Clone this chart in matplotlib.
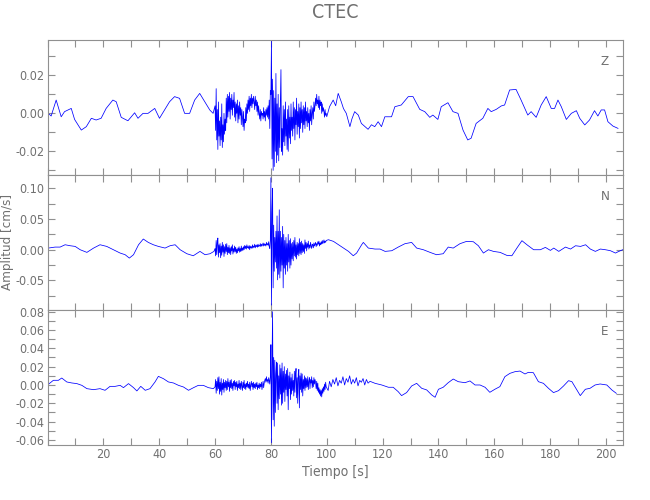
import numpy as np
import matplotlib.pyplot as plt
from matplotlib.ticker import MultipleLocator, FormatStrFormatter

# Amplitudes in units of 1e-3 cm/s
DT = 0.2          # spacing of the dense (strong motion) samples, s
T_DENSE = 60.0    # start of the dense block, s

# ---------------- Z component ----------------
z_t_pre = [0.3, 1.3, 3.1, 4.9, 6.1, 8.5, 9.7, 12.1, 13.9, 15.7, 17.4, 19.2, 21.0, 23.4, 24.6,
           26.4, 28.8, 31.2, 32.4, 34.2, 36.0, 38.4, 40.1, 41.9, 43.7, 45.5, 47.3, 49.1, 50.9,
           52.7, 54.5, 56.3, 58.1, 59.3]
z_v_pre = [0.0, -1.4, 7.0, -1.8, 0.9, 2.6, -3.2, -8.8, -7.0, -2.6, -3.5, -2.6, 2.6, 7.0, 6.1,
           -2.1, -3.9, 0.3, -2.6, 0.0, 0.0, 2.6, -2.6, 1.8, 6.1, 8.8, 7.9, 0.0, 0.0,
           7.0, 10.5, 6.1, 1.8, 0.0]
z_dense = [4, -9, 13, -14, 2,  -19, 6, -12, -4, -17,  -2, -14, 5, -18, -6,  -15, 0, -11, -3, -9,
           8, -5, 10, -2, 9,  1, 11, -3, 8, 2,  10, -1, 7, 3, 11,  -2, 6, -4, 5, 0,
           7, -5, 4, -3, 6,  -1, 3, -6, 2, -2,  -7, 1, -9, -3, -5,  3, -4, 5, 0, 7,
           2, 9, 1, 8, 4,  10, 3, 8, 5, 9,  6, 2, 9, 4, 7,  1, 6, -1, 4, 0,
           -3, 2, -4, 1, -1,  0, -3, 3, -2, 1,  -4, 2, -1, 3, -2,  4, -3, 7, -8, 12,
           10, 38, -24, 18, -30,  12, -28, 8, -20, 21,  -26, 5, -22, 10, -25,  3, -18, 7, 23, -20,
           -8, -22, 4, -15, 2,  -17, 6, -12, -3, -19,  2, -20, 4, -13, -2,  -16, 5, -9, -2, -12,
           6, -8, 3, -14, 2,  -6, 8, -11, 1, -7,  5, -13, 3, -8, 6,  -5, 2, -10, 4, -6,
           3, -8, 6, -4, 1,  -7, 3, -5, 0, -9,  2, -4, 4, -6, 0,  3, -3, 6, 1, 4,
           8, 4, 10, 5, 7,  3, 9, 2, 7, 4,  6, 0, 5, 1, 3,  1, -2, 2, -1, 0]
z_t_post = [100.0, 101.0, 102.3, 103.2, 104.1, 105.2, 106.0, 107.0, 108.3, 109.0,
            110.0, 111.3, 112.4, 114.8, 116.0, 117.2, 118.4, 119.6, 120.8, 123.2,
            124.4, 126.7, 129.2, 130.9, 133.3, 135.1, 136.9, 138.0, 139.8, 141.0,
            143.4, 145.2, 147.0, 148.8, 150.5, 151.7, 153.5, 155.9, 157.7, 158.9,
            160.7, 162.5, 163.7, 165.5, 167.8, 169.6, 172.0, 173.2, 175.0, 176.8,
            178.6, 180.4, 181.6, 182.8, 184.0, 185.8, 187.6, 189.4, 190.6, 192.4,
            194.1, 195.9, 197.1, 198.3, 199.5, 200.7, 202.5, 204.3]
z_v_post = [-1.8, 3.5, 7.0, 4.0, 10.5, 6.1, 2.5, 0.0, -7.0, -3.0,
            0.9, -0.9, -5.3, -8.4, -6.0, -7.0, -4.4, -7.0, -1.8, -1.8,
            3.5, 4.4, 8.8, 8.8, 2.1, 0.9, -2.1, -0.9, -3.2, 3.5,
            5.6, 0.9, 0.0, -8.8, -14.0, -13.1, -5.3, -2.6, 2.6, 0.9,
            2.1, 3.9, 4.4, 12.3, 12.6, 7.0, -0.9, 0.9, -2.1, 4.4,
            8.8, 2.6, 2.6, 7.0, 3.5, -3.2, 0.0, 1.4, -2.6, -6.1,
            -3.5, 1.4, -1.4, 1.8, 1.8, -4.4, -6.7, -7.9]

# ---------------- N component ----------------
n_t_pre = [0.3, 2.7, 4.5, 6.3, 8.1, 9.9, 11.7, 14.1, 16.5, 18.8, 21.2, 23.6, 26.0, 27.8, 29.3,
           30.8, 32.6, 34.3, 36.1, 37.9, 39.7, 42.1, 43.9, 45.7, 47.5, 49.9, 52.2, 54.6, 56.4,
           58.2, 59.6]
n_v_pre = [2.7, 4.3, 4.3, 8.1, 6.5, 5.4, 0.0, -4.3, 2.7, 8.1, 5.4, 0.0, -5.4, -8.1, -13.6,
           -8.1, 8.1, 17.4, 11.9, 8.1, 5.4, 2.7, 6.5, 8.1, 0.0, -6.5, -9.8, -2.7, -8.1,
           -6.5, -2.7]
n_dense = [2, -10, 15, -8, 12,  19, -12, 8, -5, 10,  -13, 6, -9, 12, -4,  8, -11, 5, -6, 9,
           -3, 10, -8, 4, -5,  7, -6, 3, -8, 5,  -2, 8, -7, 2, -4,  6, -3, 4, -6, 1,
           -5, 3, -2, 5, -4,  2, -3, 6, -2, 3,  -1, 5, 0, 7, 2,  6, 1, 8, 3, 5,
           2, 7, 0, 6, 3,  5, 2, 8, 3, 6,  4, 9, 3, 7, 5,  8, 4, 9, 5, 7,
           6, 10, 5, 9, 6,  8, 11, 6, 10, 7,  9, 6, 12, 8, 10,  7, 13, 5, 2, 15,
           117, -90, 60, 100, -62,  40, -35, 20, -20, 30,  -30, 55, -49, 30, -40,  65, -46, 30, -35, 20,
           -25, 38, -62, 25, -30,  15, -40, 20, -25, 10,  -35, 25, -20, 15, -30,  18, -25, 10, -15, 12,
           -18, 15, -10, 20, -12,  8, -15, 12, -8, 10,  -10, 18, -6, 12, -8,  14, -5, 10, -3, 8,
           -6, 16, 2, 12, -2,  10, 4, 14, 1, 8,  3, 12, 6, 2, 9,  8, 3, 11, 6, 9,
           12, 5, 10, 7, 13,  9, 14, 6, 11, 8,  13, 9, 15, 10, 12,  16, 11, 14, 12, 15]
n_t_post = [100.6, 102.4, 104.2, 106.0, 107.8, 109.5, 110.7, 112.5, 113.1, 114.9,
            117.3, 119.1, 120.9, 123.3, 125.6, 128.0, 130.4, 132.2, 134.6, 137.0,
            139.3, 141.7, 143.5, 145.3, 147.7, 150.1, 152.5, 154.3, 156.1, 157.9,
            159.7, 162.1, 164.5, 166.3, 168.1, 169.9, 171.7, 174.1, 176.5, 178.3,
            180.1, 181.3, 183.1, 185.5, 187.3, 189.1, 190.9, 192.7, 194.4, 196.2,
            198.0, 199.8, 201.6, 203.4, 204.6, 206.0]
n_v_post = [16.3, 13.6, 8.1, 2.7, -2.7, -9.8, -5.4, 8.1, 11.9, 2.7,
            1.1, 1.1, -2.7, -1.6, 4.3, 9.8, 11.9, 2.7, 0.0, -4.3,
            -8.1, -6.5, 4.3, 2.7, 9.8, 13.6, 13.0, 6.5, -5.4, 0.0,
            -2.7, -4.3, -9.2, -9.8, 2.7, 14.7, 8.1, 0.0, 0.0, 3.8,
            -1.1, 2.7, -2.7, 4.3, 1.1, 6.5, 5.4, 8.1, 1.1, -2.7,
            1.1, 0.0, -1.6, -5.4, -2.7, 0.0]

# ---------------- E component ----------------
e_t_pre = [0.3, 2.1, 3.9, 5.1, 6.9, 8.7, 10.5, 12.3, 14.1, 16.5, 18.8, 20.6, 22.4, 24.2, 26.0,
           27.2, 29.0, 30.8, 32.0, 33.4, 35.0, 36.7, 38.5, 39.7, 41.5, 43.3, 45.1, 46.9, 48.7,
           50.5, 52.3, 54.0, 55.8, 57.6, 59.4]
e_v_pre = [0.7, 5.1, 5.1, 7.6, 3.3, 2.2, 1.5, -0.4, -4.0, -5.1, -4.0, -5.8, -1.5, -1.5, -0.4,
           -2.9, 1.5, -2.9, -6.5, -1.5, -5.8, -4.0, 3.3, 9.4, 6.9, 3.3, 2.2, -0.4, -2.2,
           -5.8, -2.9, -0.4, -0.4, -2.9, -4.0]
e_dense = [-2, 6, -9, 4, -6,  8, -4, 9, -10, 3,  -7, 7, -11, 2, -5,  6, -8, 3, -3, 5,
           -6, 4, -5, 7, -2,  3, -7, 5, -3, 6,  -4, 2, -6, 4, -1,  5, -5, 3, -2, 4,
           -6, 1, -3, 5, -4,  2, -5, 4, -1, -6,  3, -3, 5, -4, 1,  -5, 2, -2, 4, -3,
           1, -4, 3, -6, 0,  4, -2, 2, -5, 3,  -3, 1, -4, 2, -2,  3, -5, 0, -3, 2,
           -4, 1, -2, 3, -5,  0, 4, -3, 2, 5,  7, 3, 9, 4, 6,  2, 8, 5, 1, 9,
           44, -63, 20, 80, -38,  30, -45, 27, -30, 12,  25, -20, 24, -27, 10,  -15, 22, -10, 18, -22,
           24, -20, 15, -8, 20,  -18, 12, -5, 16, -12,  18, -27, 10, -4, 14,  -16, 8, -10, 12, -6,
           5, -12, 15, -8, 10,  18, -14, 8, -20, 12,  17, -25, 10, -5, 13,  -8, 12, -12, 6, -4,
           10, -6, 8, -3, 7,  -2, 9, -5, 4, 8,  -4, 6, 2, 9, -3,  5, -2, 8, 1, 6,
           3, -4, 4, -6, 2,  -8, -3, -10, -5, -12,  -6, -13, -4, -9, -2,  -7, 1, -5, 3, -2]
e_t_post = [100.5, 101.0, 101.6, 102.2, 102.8, 103.4, 104.0, 104.6, 105.2, 105.8,
            106.4, 107.0, 107.6, 108.2, 108.8, 109.4, 110.0, 110.6, 111.2, 111.8,
            112.4, 113.0, 113.6, 114.2, 114.8, 115.5,
            117.3, 119.7, 122.1, 123.8, 125.6, 126.8, 128.6, 130.4, 132.2, 134.0,
            135.8, 137.6, 138.8, 140.0, 141.7, 143.5, 145.3, 147.1, 149.5, 151.3,
            153.1, 154.9, 156.7, 158.4, 160.2, 162.0, 163.8, 165.6, 167.4, 169.2,
            171.0, 172.2, 174.0, 175.8, 177.6, 179.4, 181.2, 183.0, 184.8, 186.6,
            187.8, 189.6, 190.8, 192.6, 194.3, 196.1, 197.9, 200.3, 202.1, 203.7]
e_v_post = [-6, 4, -2, 6, 1, 8, -1, 5, 2, 9,
            0, 7, 3, 10, 1, 6, 2, 8, -1, 5,
            3, 7, 0, 6, 2, 4,
            1.8, 0.0, -2.5, -2.5, -7.3, -11.6, -8.3, -1.1, 1.8, -3.6,
            -5.4, -10.9, -13.4, -4.7, -2.5, 2.5, 6.5, 3.6, 2.5, 4.4,
            0.0, 0.0, -2.5, -8.0, -4.7, -1.8, 9.1, 12.7, 14.5, 15.2,
            12.0, 13.8, 13.4, 3.6, 1.8, -3.6, -8.3, -6.2, -1.1, 4.7,
            3.6, -5.4, -11.6, -4.7, -3.6, 0.0, 1.1, 0.0, -5.4, -9.1]

components = ['Z', 'N', 'E']
ylims = [(-0.0326, 0.0386), (-0.098, 0.122), (-0.0658, 0.0818)]
ymajor = [0.02, 0.05, 0.02]
yminor = [0.01, 0.025, 0.01]


def build_trace(t_pre, v_pre, dense, t_post, v_post):
    t_dense = T_DENSE + DT*np.arange(len(dense))
    t = np.concatenate((t_pre, t_dense, t_post))
    v = np.concatenate((v_pre, dense, v_post))*1e-3
    return t, v


traces = [build_trace(z_t_pre, z_v_pre, z_dense, z_t_post, z_v_post),
          build_trace(n_t_pre, n_v_pre, n_dense, n_t_post, n_v_post),
          build_trace(e_t_pre, e_v_pre, e_dense, e_t_post, e_v_post)]

plt.rcParams['font.family'] = ['DejaVu Sans']
plt.rcParams['font.stretch'] = 'condensed'
plt.rcParams['axes.unicode_minus'] = False
grey_axis = '#909090'
grey_text = '#707070'

fig = plt.figure(figsize=(6.5, 5.0), dpi=100)
left, width = 0.0731, 0.8858
bottoms = [0.6494, 0.3800, 0.1094]
height = 0.2706

for i, (t, v) in enumerate(traces):
    ax = fig.add_axes([left, bottoms[i], width, height])
    ax.plot(t, v, color='#0000ff', lw=0.55)
    ax.set_xlim(0, 206.2)
    ax.set_ylim(*ylims[i])
    ax.xaxis.set_major_locator(MultipleLocator(20))
    ax.xaxis.set_minor_locator(MultipleLocator(10))
    ax.yaxis.set_major_locator(MultipleLocator(ymajor[i]))
    ax.yaxis.set_minor_locator(MultipleLocator(yminor[i]))
    ax.yaxis.set_major_formatter(FormatStrFormatter('%.2f'))
    ax.tick_params(which='both', direction='in', top=True, right=True, length=5,
                   width=0.8, color=grey_axis, labelcolor=grey_text, labelsize=9, pad=2)
    for s in ax.spines.values():
        s.set_color(grey_axis)
        s.set_linewidth(0.8)
    if i < 2:
        ax.tick_params(labelbottom=False)
    else:
        ax.set_xticks(np.arange(20, 201, 20))
        ax.set_xlabel('Tiempo [s]', color=grey_text, fontsize=10, labelpad=3)
    ax.text(0.968, 0.84, components[i], transform=ax.transAxes, ha='center', va='center',
            color=grey_text, fontsize=9.5)

fig.text(0.516, 0.976, 'CTEC', ha='center', va='center', color=grey_text, fontsize=14)
fig.text(0.012, 0.515, 'Amplitud [cm/s]', rotation=90, ha='center', va='center',
         color=grey_text, fontsize=9.5)

fig.savefig('out.png', dpi=100)
